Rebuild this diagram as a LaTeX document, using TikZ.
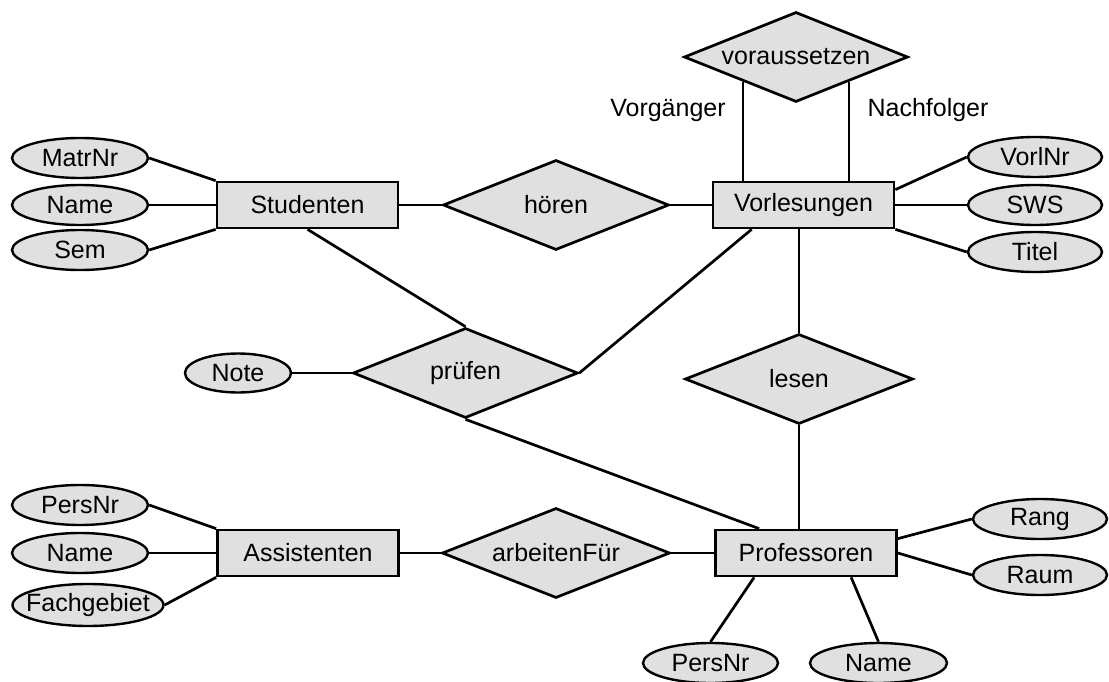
\documentclass[tikz,border=0pt]{standalone}
\usepackage{fontspec}
\setmainfont{Liberation Sans}
\usetikzlibrary{shapes.geometric,calc}
\definecolor{boxfill}{HTML}{E0E0E0}
\begin{document}
\begin{tikzpicture}[x=1pt,y=-1pt,
  every node/.style={font=\fontsize{25}{30}\selectfont},
  ent/.style={draw,fill=boxfill,line width=2.7pt,rectangle,minimum width=181pt,minimum height=46pt,inner sep=0pt},
  rel/.style={draw,fill=boxfill,line width=2.7pt,diamond,aspect=2.5,minimum width=226pt,minimum height=90pt,inner sep=0pt},
  attr/.style={draw,fill=boxfill,line width=2.4pt,ellipse,minimum width=136pt,minimum height=40pt,inner sep=0pt},
  lbl/.style={inner sep=0pt},
  conn/.style={line width=2.7pt}]
\useasboundingbox (0,0) rectangle (1109,682);
% entities
\node[ent] (stud) at (307.5,205) {Studenten};
\node[ent] (vorl) at (803.5,205) {Vorlesungen};
\node[ent] (ass) at (308,553) {Assistenten};
\node[ent] (prof) at (806,553) {Professoren};
% relationships
\node[rel] (hoeren) at (556,205) {hören};
\node[rel,minimum width=224pt] (vor) at (796,57) {voraussetzen};
\node[rel,minimum width=225pt] (pruefen) at (465.5,373) {prüfen};
\node[rel,minimum width=228pt] (lesen) at (799,379) {lesen};
\node[rel,minimum width=228pt] (arb) at (556,553) {arbeitenFür};
% attributes
\node[attr] (matr) at (80,158) {\makebox[0pt]{MatrNr}};
\node[attr] (sname) at (80,205) {\makebox[0pt]{Name}};
\node[attr] (sem) at (80,250) {\makebox[0pt]{Sem}};
\node[attr,minimum width=134pt] (vnr) at (1035,157) {\makebox[0pt]{VorlNr}};
\node[attr,minimum width=134pt] (sws) at (1035,205) {\makebox[0pt]{SWS}};
\node[attr,minimum width=134pt] (titel) at (1035,252) {\makebox[0pt]{Titel}};
\node[attr,minimum width=106pt,minimum height=39pt] (note) at (238,373) {\makebox[0pt]{Note}};
\node[attr] (apers) at (80,505) {\makebox[0pt]{PersNr}};
\node[attr] (aname) at (80,553) {\makebox[0pt]{Name}};
\node[attr,minimum width=151pt,minimum height=42pt] (fach) at (88,605) {\makebox[0pt]{Fachgebiet}};
\node[attr,minimum width=134pt] (rang) at (1040,519) {\makebox[0pt]{Rang}};
\node[attr,minimum width=134pt] (raum) at (1040,575) {\makebox[0pt]{Raum}};
\node[attr,minimum width=135pt] (ppers) at (710.5,663) {\makebox[0pt]{PersNr}};
\node[attr,minimum width=137pt] (pname) at (878.5,663) {\makebox[0pt]{Name}};
% role labels
\node[lbl] (vg) at (668,110) {Vorgänger};
\node[lbl] (nf) at (928,110) {Nachfolger};
% connectors
\draw[conn] (matr.east) -- (stud.north west);
\draw[conn] (sname.east) -- (stud.west);
\draw[conn] (sem.east) -- (stud.south west);
\draw[conn] (stud.east) -- (hoeren.west);
\draw[conn] (hoeren.east) -- (vorl.west);
\draw[conn] (vor.205) -- (vor.205 |- vorl.north);
\draw[conn] (vor.335) -- (vor.335 |- vorl.north);
\draw[conn] ([yshift=-9pt]vorl.north east) -- (vnr.west);
\draw[conn] (vorl.east) -- (sws.west);
\draw[conn] (vorl.south east) -- (titel.west);
\draw[conn] (stud.south) -- (pruefen.north);
\draw[conn] ([xshift=40pt]vorl.south west) -- (pruefen.east);
\draw[conn] (note.east) -- (pruefen.west);
\draw[conn] (lesen.north) -- (lesen.north |- vorl.south);
\draw[conn] (lesen.south) -- (lesen.south |- prof.north);
\draw[conn] (pruefen.south) -- ([xshift=45pt]prof.north west);
\draw[conn] (apers.east) -- (ass.north west);
\draw[conn] (aname.east) -- (ass.west);
\draw[conn] (fach.east) -- (ass.south west);
\draw[conn] (ass.east) -- (arb.west);
\draw[conn] (arb.east) -- (prof.west);
\draw[conn] ([yshift=-10pt]prof.north east) -- (rang.west);
\draw[conn] (prof.east) -- (raum.west);
\draw[conn] ([xshift=40pt]prof.south west) -- (ppers.north);
\draw[conn] ([xshift=137pt]prof.south west) -- (pname.north);
\end{tikzpicture}
\end{document}
